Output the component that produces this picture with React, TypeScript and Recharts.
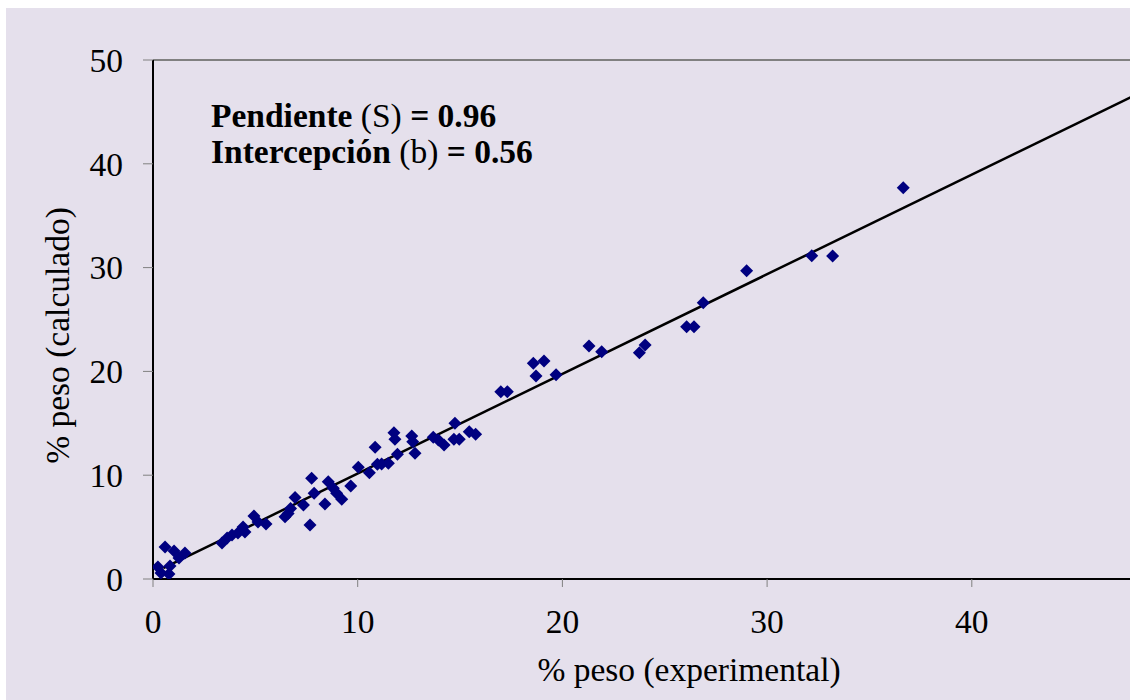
import React from 'react';
import {
  ScatterChart,
  Scatter,
  XAxis,
  YAxis,
  ReferenceLine,
} from 'recharts';

// % peso experimental (eje X)
const experimental = [
  0.24, 0.39, 0.78, 0.83, 0.59, 1.03, 1.27, 1.56,
  3.37, 3.62, 3.86, 4.15, 4.40, 4.49, 4.93, 5.13, 5.52,
  6.45, 6.60, 6.72, 6.94, 7.35, 7.67, 7.75, 7.87, 8.40, 8.56, 8.81, 8.97, 9.22, 9.66,
  10.03, 10.57, 10.85, 10.96, 11.17, 11.50, 11.77, 11.82, 11.94,
  12.64, 12.69, 12.80, 13.69, 13.94, 14.22, 14.75, 14.70, 14.96, 15.45, 15.76,
  16.99, 17.31, 18.58, 19.10, 18.71, 19.69, 21.30, 21.92, 23.76, 24.04,
  26.07, 26.43, 26.88, 29.00, 32.18, 33.20, 36.65,
];

// % peso calculado (eje Y)
const calculado = [
  1.16, 0.58, 0.48, 1.25, 3.08, 2.70, 2.02, 2.50,
  3.47, 3.95, 4.24, 4.43, 5.00, 4.53, 6.07, 5.49, 5.30,
  6.00, 6.30, 6.80, 7.85, 7.13, 5.20, 9.70, 8.26, 7.23, 9.37, 8.74, 8.26, 7.68, 8.96,
  10.76, 10.24, 12.69, 11.05, 11.08, 11.15, 14.09, 13.46, 12.01,
  13.78, 13.23, 12.11, 13.65, 13.39, 12.91, 15.00, 13.46, 13.46, 14.19, 13.94,
  18.05, 18.05, 20.78, 21.00, 19.56, 19.68, 22.45, 21.90, 21.80, 22.54,
  24.31, 24.31, 26.62, 29.70, 31.15, 31.12, 37.70,
];

const ticksX = [0, 10, 20, 30, 40];
const ticksY = [0, 10, 20, 30, 40, 50];

// recta de ajuste
const pendiente = 0.96;
const intercepcion = 0.56;
const rangoRecta = [0.5, 50];

const puntos = experimental.map((x, i) => ({ x, y: calculado[i] }));
const recta = rangoRecta.map((x) => ({ x, y: pendiente * x + intercepcion }));

const FONT = '"Liberation Serif", "Times New Roman", serif';
const FONDO = '#E5E0EC';
const TAM = 33.5;

const Rombo = (props: any) => {
  const { cx, cy } = props;
  const r = 6.5;
  return (
    <polygon
      points={`${cx},${cy - r} ${cx + r},${cy} ${cx},${cy + r} ${cx - r},${cy}`}
      fill="#000080"
    />
  );
};

export default function App() {
  const tickStyle = { fontFamily: FONT, fontSize: TAM, fill: '#000' };
  return (
    <div
      style={{
        position: 'absolute',
        left: 6,
        top: 8,
        width: 1124,
        height: 692,
        overflow: 'hidden',
        background: FONDO,
      }}
    >
      <ScatterChart
        width={1240}
        height={692}
        margin={{ top: 52, right: 69.5, bottom: 0, left: 0 }}
      >
        <XAxis
          type="number"
          dataKey="x"
          domain={[0, 50]}
          ticks={ticksX}
          allowDataOverflow
          height={121}
          tick={tickStyle}
          tickSize={8}
          tickMargin={22}
          tickLine={{ stroke: '#808080', strokeWidth: 1 }}
          axisLine={{ stroke: '#000', strokeWidth: 2 }}
        />
        <YAxis
          type="number"
          dataKey="y"
          domain={[0, 50]}
          ticks={ticksY}
          allowDataOverflow
          width={147}
          tick={tickStyle}
          tickSize={10}
          tickMargin={20}
          tickLine={{ stroke: '#808080', strokeWidth: 1 }}
          axisLine={{ stroke: '#000', strokeWidth: 2 }}
        />
        <ReferenceLine y={50} stroke="#808080" strokeWidth={2} />
        <Scatter
          data={recta}
          line={{ stroke: '#000', strokeWidth: 2.5 }}
          shape={() => null}
          isAnimationActive={false}
        />
        <Scatter data={puntos} shape={Rombo} isAnimationActive={false} />

        {/* textos del gráfico */}
        <text
          x={683}
          y={673}
          textAnchor="middle"
          fontFamily={FONT}
          fontSize={TAM}
          fill="#000"
        >
          % peso (experimental)
        </text>
        <text
          x={63}
          y={327.5}
          textAnchor="middle"
          transform="rotate(-90, 63, 327.5)"
          fontFamily={FONT}
          fontSize={TAM}
          fill="#000"
        >
          % peso (calculado)
        </text>
        <text x={205} y={119} fontFamily={FONT} fontSize={TAM} fill="#000">
          <tspan fontWeight="bold">Pendiente </tspan>
          <tspan>(S)</tspan>
          <tspan fontWeight="bold"> = {pendiente.toFixed(2)}</tspan>
        </text>
        <text x={205} y={155} fontFamily={FONT} fontSize={TAM} fill="#000">
          <tspan fontWeight="bold">Intercepción </tspan>
          <tspan>(b)</tspan>
          <tspan fontWeight="bold"> = {intercepcion.toFixed(2)}</tspan>
        </text>
      </ScatterChart>
    </div>
  );
}
